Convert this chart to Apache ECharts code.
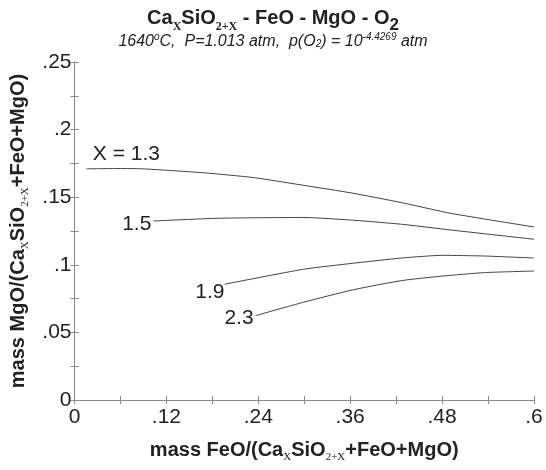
<!DOCTYPE html>
<html><head><meta charset="utf-8">
<script src="https://cdn.jsdelivr.net/npm/echarts@6/dist/echarts.min.js"></script>
<style>html,body{margin:0;padding:0;background:#fff}#c{width:546px;height:470px}</style>
</head><body><div id="c"></div>
<script>
// Data
const seriesNames = ['X = 1.3', '1.5', '1.9', '2.3'];
const x13 = [0.0155, 0.054, 0.084, 0.118, 0.17, 0.234, 0.299, 0.363, 0.427, 0.492, 0.6];
const y13 = [0.171, 0.1712, 0.1711, 0.1700, 0.168, 0.1645, 0.1588, 0.153, 0.146, 0.138, 0.128];
const x15 = [0.103, 0.187, 0.299, 0.363, 0.427, 0.492, 0.6];
const y15 = [0.1324, 0.1344, 0.135, 0.133, 0.130, 0.1257, 0.1189];
const x19 = [0.196, 0.299, 0.363, 0.427, 0.481, 0.535, 0.6];
const y19 = [0.0856, 0.0967, 0.1011, 0.105, 0.107, 0.1065, 0.105];
const x23 = [0.2365, 0.299, 0.363, 0.427, 0.481, 0.535, 0.6];
const y23 = [0.0624, 0.0723, 0.0814, 0.0883, 0.0917, 0.0942, 0.0954];
const xTickValues = [0, 0.12, 0.24, 0.36, 0.48, 0.6];
const xTickLabels = ['0', '.12', '.24', '.36', '.48', '.6'];
const yTickValues = [0, 0.05, 0.1, 0.15, 0.2, 0.25];
const yTickLabels = ['0', '.05', '.1', '.15', '.2', '.25'];

const labelStyles = [
  {position: 'top', offset: [40, -2]},
  {position: 'left', offset: [0, 3]},
  {position: 'left', offset: [2, 8]},
  {position: 'left', offset: [0, 3]}
];
const xs = [x13, x15, x19, x23], ys = [y13, y15, y19, y23];

function tickFmt(values, labels) {
  return function (v) {
    for (let i = 0; i < values.length; i++) if (Math.abs(v - values[i]) < 1e-6) return labels[i];
    return '';
  };
}

const font = 'Liberation Sans, Arial, sans-serif';

const series = seriesNames.map((name, k) => ({
  type: 'line', name: name, xAxisIndex: 0, yAxisIndex: 0,
  smooth: 0.2,
  symbol: 'circle', symbolSize: 0.1, showSymbol: true,
  itemStyle: {color: '#444'},
  lineStyle: {color: '#444', width: 1},
  data: xs[k].map((x, i) => i === 0 ? {
    value: [x, ys[k][i]],
    label: Object.assign({show: true, formatter: name, color: '#222', fontSize: 21,
      fontFamily: font, distance: 2}, labelStyles[k])
  } : [x, ys[k][i]])
}));

const axisCommon = {
  axisLine: {show: true, lineStyle: {color: '#888', width: 1}},
  axisTick: {show: true, inside: true, length: 4, lineStyle: {color: '#888'}},
  splitLine: {show: false}
};

const chart = echarts.init(document.getElementById('c'), null, {renderer: 'canvas'});
chart.setOption({
  animation: false,
  backgroundColor: '#fff',
  title: [{
    text: '{b|Ca}{s|X}{b|SiO}{s|2+X}{b| - FeO - MgO - O}{s2|2}',
    left: 'center', top: -2,
    textStyle: {rich: {
      b: {fontSize: 20, fontWeight: 'bold', fontFamily: font, color: '#222'},
      s: {fontSize: 12, fontFamily: 'Liberation Serif, Times New Roman, serif', fontWeight: 'bold', color: '#222', padding: [16, 0, 0, 0]},
      s2: {fontSize: 17, fontWeight: 'bold', fontFamily: font, color: '#222', padding: [14, 0, 0, 0]}
    }}
  }, {
    text: '{i|1640}{sup|o}{i|C,  P=1.013 atm,  p(O}{sub|2}{i|) = 10}{sup|-4.4269}{i| atm}',
    left: 'center', top: 27,
    textStyle: {fontWeight: 'normal', rich: {
      i: {fontSize: 16, fontStyle: 'italic', fontWeight: 'normal', fontFamily: font, color: '#222'},
      sup: {fontSize: 10, fontStyle: 'italic', fontWeight: 'normal', fontFamily: font, color: '#222', padding: [0, 0, 9, 0]},
      sub: {fontSize: 10, fontStyle: 'italic', fontWeight: 'normal', fontFamily: font, color: '#222', padding: [6, 0, 0, 0]}
    }}
  }],
  grid: {left: 68, right: 12, top: 62, bottom: 70},
  xAxis: [Object.assign({
    type: 'value', min: 0, max: 0.6, interval: 0.06, position: 'bottom',
    axisLabel: {formatter: tickFmt(xTickValues, xTickLabels), fontSize: 21, color: '#222', fontFamily: font, margin: 7},
    name: '{b|mass FeO/(Ca}{s|X}{b|SiO}{s|2+X}{b|+FeO+MgO)}',
    nameLocation: 'middle', nameGap: 38,
    nameTextStyle: {rich: {
      b: {fontSize: 20, fontWeight: 'bold', fontFamily: font, color: '#222'},
      s: {fontSize: 11, fontFamily: 'Liberation Serif, Times New Roman, serif', color: '#222', padding: [14, 0, 0, 0]}
    }}
  }, axisCommon), Object.assign({
    type: 'value', min: 0, max: 0.6, interval: 0.06, position: 'top',
    axisLabel: {show: false}
  }, axisCommon)],
  yAxis: [Object.assign({
    type: 'value', min: 0, max: 0.25, interval: 0.025, position: 'left',
    axisLabel: {formatter: tickFmt(yTickValues, yTickLabels), fontSize: 21, color: '#222', fontFamily: font, margin: 3},
    name: '{b|mass MgO/(Ca}{s|X}{b|SiO}{s|2+X}{b|+FeO+MgO)}',
    nameLocation: 'middle', nameGap: 44, nameRotate: 90,
    nameTextStyle: {rich: {
      b: {fontSize: 20, fontWeight: 'bold', fontFamily: font, color: '#222'},
      s: {fontSize: 11, fontFamily: 'Liberation Serif, Times New Roman, serif', color: '#222', padding: [14, 0, 0, 0]}
    }}
  }, axisCommon), Object.assign({
    type: 'value', min: 0, max: 0.25, interval: 0.025, position: 'right',
    axisLabel: {show: false}
  }, axisCommon)],
  series: series
});
</script></body></html>
